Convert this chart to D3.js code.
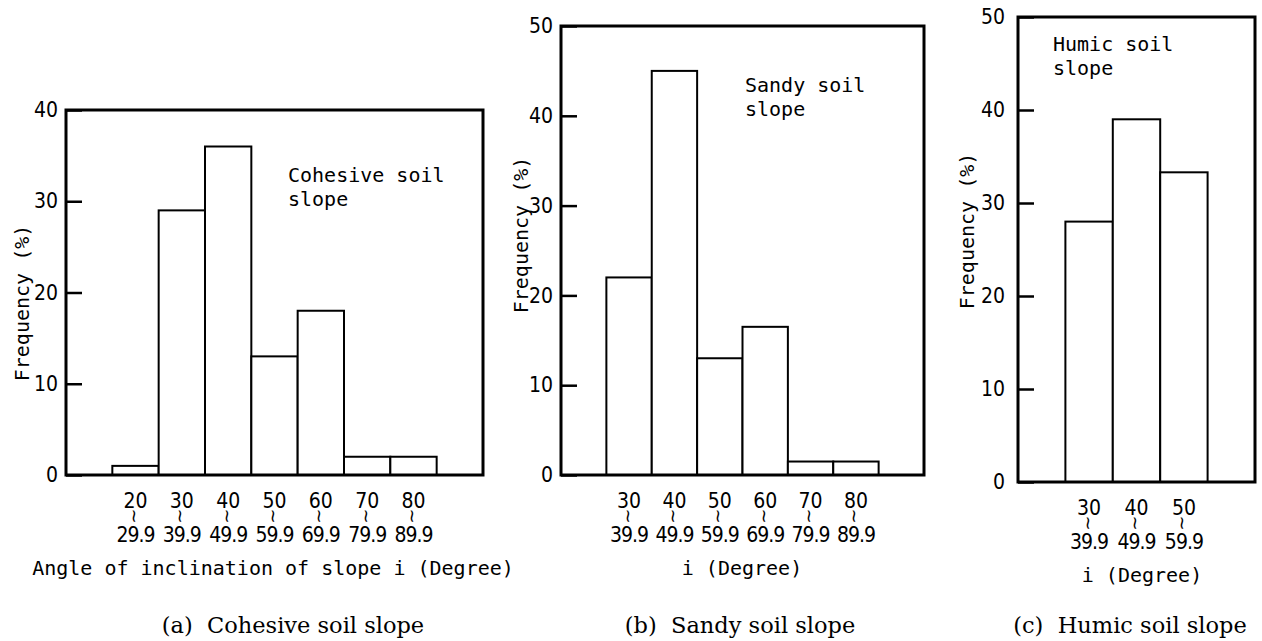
<!DOCTYPE html>
<html lang="en">
<head>
<meta charset="UTF-8">
<script src="https://d3js.org/d3.v7.min.js"></script>
<style>
  body { margin: 0; background: #fff; }
  svg text { fill: #000; }
  .mono { font-family: "DejaVu Sans Mono", monospace; font-size: 20px; }
  .num { font-family: "DejaVu Sans", sans-serif; font-stretch: condensed; font-size: 21px; }
  .cap { font-family: "DejaVu Serif", serif; font-size: 22.5px; }
  .frame { fill: none; stroke: #000; stroke-width: 3px; }
  .bar { fill: #fff; stroke: #000; stroke-width: 2px; }
</style>
</head>
<body>
<svg id="chart" width="1262" height="641"></svg>
<script>
// (a) cohesive soil slope
const cohesiveFrom = [20, 30, 40, 50, 60, 70, 80];
const cohesiveTo = ["29.9", "39.9", "49.9", "59.9", "69.9", "79.9", "89.9"];
const cohesiveFreq = [1, 29, 36, 13, 18, 2, 2];

// (b) sandy soil slope
const sandyFrom = [30, 40, 50, 60, 70, 80];
const sandyTo = ["39.9", "49.9", "59.9", "69.9", "79.9", "89.9"];
const sandyFreq = [22, 45, 13, 16.5, 1.5, 1.5];

// (c) humic soil slope
const humicFrom = [30, 40, 50];
const humicTo = ["39.9", "49.9", "59.9"];
const humicFreq = [28, 39, 33.3];

const yTicksA = [0, 10, 20, 30, 40];
const yTicksBC = [0, 10, 20, 30, 40, 50];

const panels = [
  { from: cohesiveFrom, to: cohesiveTo, freq: cohesiveFreq, ticks: yTicksA,
    xDom: [10, 100], xR: [66, 483], yMax: 40, yR: [475, 110], pad: 8,
    yLab: [22, 303], note: ["Cohesive soil", "slope"], noteAt: [288, 182],
    xTitle: "Angle of inclination of slope i (Degree)", xTitleX: 273,
    caption: "(a)  Cohesive soil slope", capX: 293 },
  { from: sandyFrom, to: sandyTo, freq: sandyFreq, ticks: yTicksBC,
    xDom: [20, 100], xR: [561, 924], yMax: 50, yR: [475, 26], pad: 8,
    yLab: [521, 235], note: ["Sandy soil", "slope"], noteAt: [745, 92],
    xTitle: "i (Degree)", xTitleX: 742,
    caption: "(b)  Sandy soil slope", capX: 740 },
  { from: humicFrom, to: humicTo, freq: humicFreq, ticks: yTicksBC,
    xDom: [20, 70], xR: [1018, 1255], yMax: 50, yR: [482, 17], pad: 13,
    yLab: [967, 231], note: ["Humic soil", "slope"], noteAt: [1053, 51],
    xTitle: "i (Degree)", xTitleX: 1142,
    caption: "(c)  Humic soil slope", capX: 1130 }
];

const svg = d3.select("#chart");

panels.forEach(p => {
  const x = d3.scaleLinear().domain(p.xDom).range(p.xR);
  const y = d3.scaleLinear().domain([0, p.yMax]).range(p.yR);
  const g = svg.append("g");
  const rows = p.from.map((f, i) => ({ from: f, to: p.to[i], v: p.freq[i] }));

  g.selectAll(".bar")
    .data(rows)
    .enter()
    .append("rect")
    .attr("class", "bar")
    .attr("x", d => x(d.from))
    .attr("y", d => y(d.v))
    .attr("width", d => x(d.from + 10) - x(d.from))
    .attr("height", d => y(0) - y(d.v));

  g.append("rect")
    .attr("class", "frame")
    .attr("x", p.xR[0])
    .attr("y", p.yR[1])
    .attr("width", p.xR[1] - p.xR[0])
    .attr("height", p.yR[0] - p.yR[1]);

  const ax = g.append("g")
    .attr("transform", `translate(${p.xR[0]},0)`)
    .call(d3.axisLeft(y).tickValues(p.ticks).tickSizeInner(-16).tickSizeOuter(0).tickPadding(p.pad));
  ax.select(".domain").remove();
  ax.attr("font-size", null).attr("font-family", null);
  ax.selectAll("line").attr("stroke", "#000").attr("stroke-width", 2.5);
  ax.selectAll("text").attr("class", "num");

  // x tick labels: "from ~ to"
  const lab = g.selectAll(".xl").data(rows).enter().append("g")
    .attr("transform", d => `translate(${x(d.from + 5)},${y(0)})`);
  lab.append("text").attr("class", "num").attr("text-anchor", "middle")
    .attr("y", 33).text(d => d.from);
  lab.append("text").attr("text-anchor", "middle")
    .attr("dominant-baseline", "central")
    .attr("transform", "translate(-1,41) rotate(90)")
    .style("font-family", "DejaVu Sans, sans-serif")
    .style("font-size", "18px").text("~");
  lab.append("text").attr("class", "num").attr("text-anchor", "middle")
    .attr("y", 67).attr("letter-spacing", -1).text(d => d.to);

  g.append("text").attr("class", "mono").attr("text-anchor", "middle")
    .attr("x", p.xTitleX).attr("y", y(0) + 100).text(p.xTitle);

  g.append("text").attr("class", "mono").attr("text-anchor", "middle")
    .attr("dominant-baseline", "central")
    .attr("transform", `translate(${p.yLab[0]},${p.yLab[1]}) rotate(-90)`)
    .text("Frequency (%)");

  p.note.forEach((t, i) => {
    g.append("text").attr("class", "mono")
      .attr("x", p.noteAt[0]).attr("y", p.noteAt[1] + i * 24).text(t);
  });

  g.append("text").attr("class", "cap").attr("text-anchor", "middle")
    .attr("x", p.capX).attr("y", 633)
    .style("white-space", "pre").text(p.caption);
});
</script>
</body>
</html>
